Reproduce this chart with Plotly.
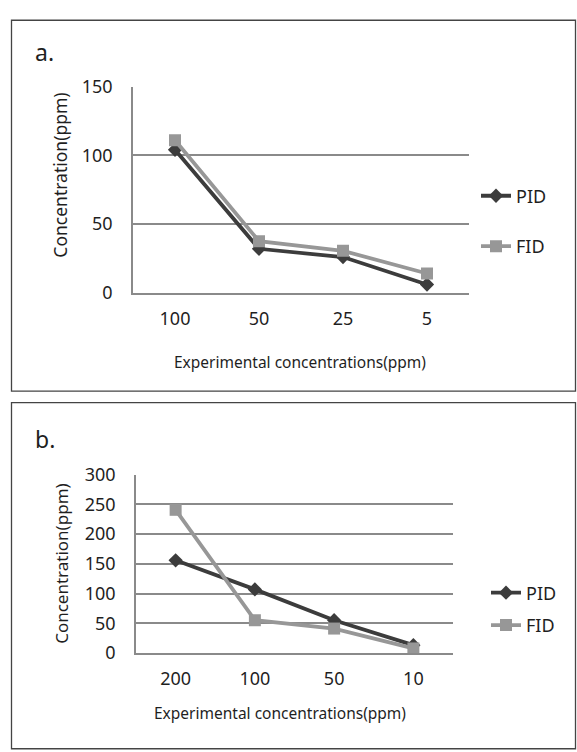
import plotly.graph_objects as go

# ---- data ----
cats_a = ["100", "50", "25", "5"]
pid_a = [104, 32, 26, 6]
fid_a = [111, 37.5, 30.5, 14]

cats_b = ["200", "100", "50", "10"]
pid_b = [156, 107, 55, 13]
fid_b = [241, 55, 41, 7.5]

x_title = "Experimental concentrations(ppm)"
y_title = "Concentration(ppm)"

W, H = 577, 752
FONT = "Noto Sans"
TXT = "#1f1f1f"
PID_C = "#3c3c3c"
FID_C = "#979797"
GRID_C = "#8a8a8a"


def px(x):
    return x / W


def py(y):
    return 1 - y / H


fig = go.Figure()

fig.add_trace(go.Scatter(x=cats_a, y=pid_a, name="PID", mode="lines+markers",
                         line=dict(color=PID_C, width=3.8),
                         marker=dict(symbol="diamond", size=11, color=PID_C),
                         xaxis="x", yaxis="y", legend="legend", legendgroup="a1"))
fig.add_trace(go.Scatter(x=cats_a, y=fid_a, name="FID", mode="lines+markers",
                         line=dict(color=FID_C, width=3.8),
                         marker=dict(symbol="square", size=12, color=FID_C),
                         xaxis="x", yaxis="y", legend="legend", legendgroup="a2"))
fig.add_trace(go.Scatter(x=cats_b, y=pid_b, name="PID", mode="lines+markers",
                         line=dict(color=PID_C, width=3.8),
                         marker=dict(symbol="diamond", size=11, color=PID_C),
                         xaxis="x2", yaxis="y2", legend="legend2", legendgroup="b1"))
fig.add_trace(go.Scatter(x=cats_b, y=fid_b, name="FID", mode="lines+markers",
                         line=dict(color=FID_C, width=3.8),
                         marker=dict(symbol="square", size=12, color=FID_C),
                         xaxis="x2", yaxis="y2", legend="legend2", legendgroup="b2"))

axis_common = dict(showline=True, linecolor=GRID_C, linewidth=1.5, ticks="",
                   tickfont=dict(family=FONT, size=18, color=TXT), zeroline=False)

fig.update_layout(
    width=W, height=H,
    margin=dict(l=0, r=0, t=0, b=0),
    paper_bgcolor="white", plot_bgcolor="white",
    font=dict(family=FONT, color=TXT),
    xaxis=dict(domain=[px(133), px(469)], anchor="y", type="category",
               range=[-0.5, 3.5], showgrid=False, ticklabelstandoff=9, **axis_common),
    yaxis=dict(domain=[py(289), py(76)], anchor="x", range=[0, 150], dtick=50,
               showgrid=True, gridcolor=GRID_C, gridwidth=1.5, ticklabelstandoff=15,
               **axis_common),
    xaxis2=dict(domain=[px(136), px(453)], anchor="y2", type="category",
                range=[-0.5, 3.5], showgrid=False, ticklabelstandoff=9, **axis_common),
    yaxis2=dict(domain=[py(661), py(477)], anchor="x2", range=[0, 300], dtick=50,
                showgrid=True, gridcolor=GRID_C, gridwidth=1.5, ticklabelstandoff=15,
                **axis_common),
    legend=dict(x=px(476), y=py(170), xanchor="left", yanchor="top",
                font=dict(family=FONT, size=18, color=TXT), bgcolor="rgba(0,0,0,0)",
                traceorder="grouped", tracegroupgap=24, itemwidth=30),
    legend2=dict(x=px(486), y=py(580), xanchor="left", yanchor="top",
                 font=dict(family=FONT, size=18, color=TXT), bgcolor="rgba(0,0,0,0)",
                 traceorder="grouped", tracegroupgap=6, itemwidth=30),
    shapes=[
        dict(type="rect", xref="paper", yref="paper", x0=px(11.5), x1=px(575.5),
             y0=py(390.5), y1=py(7.5), line=dict(color="#444", width=1.3)),
        dict(type="rect", xref="paper", yref="paper", x0=px(11.5), x1=px(575.5),
             y0=py(760), y1=py(402.5), line=dict(color="#444", width=1.3)),
    ],
    annotations=[
        dict(text="a.", x=px(33), y=py(40), xref="paper", yref="paper",
             xanchor="left", yanchor="middle", showarrow=False,
             font=dict(family=FONT, size=23, color=TXT)),
        dict(text="b.", x=px(33), y=py(440), xref="paper", yref="paper",
             xanchor="left", yanchor="middle", showarrow=False,
             font=dict(family=FONT, size=23, color=TXT)),
        dict(text=y_title, x=px(60), y=py(168), xref="paper", yref="paper",
             xanchor="center", yanchor="middle", textangle=-90, showarrow=False,
             font=dict(family=FONT, size=17.5, color=TXT)),
        dict(text=y_title, x=px(62), y=py(569), xref="paper", yref="paper",
             xanchor="center", yanchor="middle", textangle=-90, showarrow=False,
             font=dict(family=FONT, size=17, color=TXT)),
        dict(text=x_title, x=px(300), y=py(360), xref="paper", yref="paper",
             xanchor="center", yanchor="middle", showarrow=False,
             font=dict(family=FONT, size=15.5, color=TXT)),
        dict(text=x_title, x=px(280), y=py(723), xref="paper", yref="paper",
             xanchor="center", yanchor="middle", showarrow=False,
             font=dict(family=FONT, size=15.5, color=TXT)),
    ],
)

fig.write_html("out.html", config={"displayModeBar": False},
               post_script="document.body.style.margin='0px';document.body.style.overflow='hidden';")
